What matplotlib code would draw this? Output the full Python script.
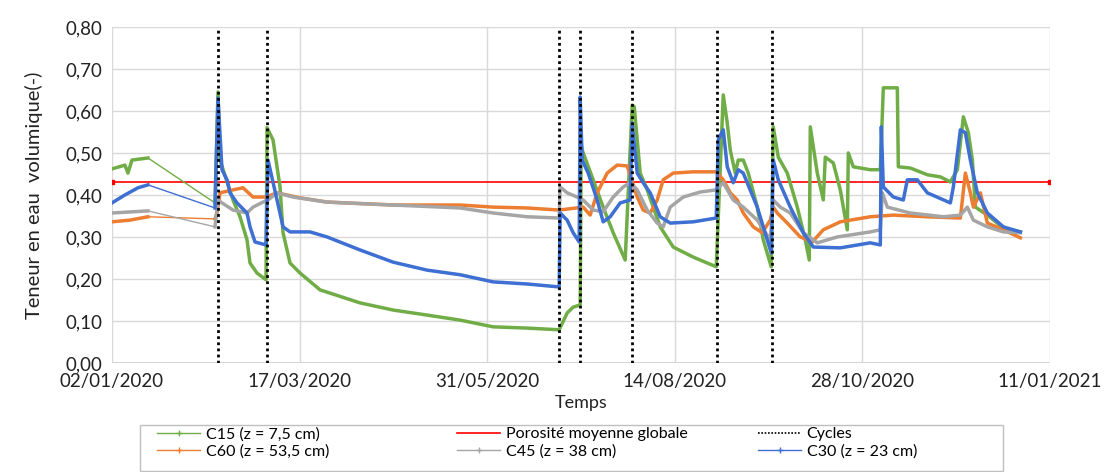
import datetime as dt
import numpy as np
import matplotlib
matplotlib.use("Agg")
import matplotlib.pyplot as plt
import matplotlib.dates as mdates
from matplotlib.lines import Line2D
from matplotlib.patches import Rectangle
from matplotlib.ticker import FuncFormatter, MultipleLocator

plt.rcParams['font.family'] = ['Lato', 'DejaVu Sans']

# days counted from 02/01/2020
START = dt.datetime(2020, 1, 2)

c15_days = [0, 5.2, 6.4, 8, 14.4, 41.2, 42.4, 43.2, 48.4, 51.2, 54, 55.2, 58, 61.6,
            62, 64.4, 67.2, 68.4, 71.2, 75.2, 83.2, 99.2, 112.4, 126, 139.2, 152.4, 166, 178.8,
            182, 184.4, 187.2, 187.6, 188, 192.4, 196.4, 200.4, 205.2,
            208, 208.8, 211.2, 214, 219.2, 224.4, 232.4, 241.6,
            244.4, 246, 247.2, 249.2, 250.4, 252.4, 254.4, 258, 260.4, 263.6,
            264.4, 266.4, 270, 274, 277.2, 278.8, 279.2, 282, 284.4, 285.2, 288.4, 291.2, 294,
            294.4, 296.4, 303.2, 307.2, 308.4, 314, 314.4, 319.2, 326, 331.2, 335.2,
            338, 340.4, 342.4, 344, 345.2, 350, 356.4, 363.2]
c15_vals = [0.462, 0.471, 0.452, 0.483, 0.488, 0.381, 0.645, 0.483, 0.388, 0.348, 0.293, 0.238, 0.214, 0.198,
            0.560, 0.531, 0.419, 0.310, 0.238, 0.214, 0.174, 0.143, 0.126, 0.114, 0.102, 0.086, 0.083, 0.079,
            0.119, 0.133, 0.138, 0.520, 0.507, 0.436, 0.371, 0.310, 0.245,
            0.614, 0.610, 0.452, 0.412, 0.324, 0.276, 0.252, 0.229,
            0.638, 0.571, 0.507, 0.452, 0.483, 0.483, 0.452, 0.371, 0.293, 0.229,
            0.562, 0.490, 0.452, 0.371, 0.293, 0.245, 0.562, 0.452, 0.388, 0.490, 0.476, 0.412, 0.317,
            0.500, 0.467, 0.460, 0.460, 0.655, 0.655, 0.467, 0.464, 0.448, 0.443, 0.431,
            0.460, 0.586, 0.548, 0.483, 0.371, 0.352, 0.321, 0.312]

c60_days = [0, 7.2, 14.4, 41.2, 42, 43.2, 48.4, 52.4, 56.4, 61.6, 66, 75.2, 86, 112.4, 139.2,
            152.4, 166, 178.8, 188.4, 191.2, 194, 198, 202, 206, 210, 212.4, 215.2, 218, 220.4,
            224.4, 232.4, 241.6, 244.4, 247.2, 250, 252.4, 256.4, 260, 263.2, 264.4, 266, 270,
            275.2, 280, 284.4, 291.2, 303.2, 312.4, 326, 339.2, 341.2, 343.2, 344.4, 347.2,
            350, 356.4, 363.2]
c60_vals = [0.336, 0.340, 0.348, 0.343, 0.357, 0.405, 0.412, 0.417, 0.395, 0.395, 0.405, 0.393, 0.383, 0.376, 0.376,
            0.371, 0.369, 0.364, 0.371, 0.352, 0.405, 0.452, 0.471, 0.469, 0.395, 0.364, 0.357, 0.388, 0.436,
            0.452, 0.455, 0.455, 0.436, 0.405, 0.388, 0.357, 0.324, 0.310, 0.340, 0.371, 0.357, 0.333,
            0.300, 0.288, 0.317, 0.336, 0.348, 0.352, 0.348, 0.345, 0.452, 0.405, 0.371, 0.405,
            0.333, 0.317, 0.298]

c45_days = [0, 14.4, 41.2, 42.4, 44, 48.4, 54, 56.4, 60.4, 62.4, 66, 72.4, 86, 112.4, 139.2,
            152.4, 166, 178.8, 179.2, 182, 186, 188.4, 192.4, 196.4, 200.4, 204.4, 207.2, 210,
            214, 218, 220.4, 223.2, 228.4, 235.2, 241.6, 244.4, 248.4, 252.4, 258, 263.2,
            264.4, 267.2, 271.2, 276.4, 282, 290, 303.2, 307.2, 308, 310, 319.2, 332.4, 339.2,
            342, 344.4, 350, 356.4, 363.2]
c45_vals = [0.357, 0.362, 0.324, 0.388, 0.381, 0.364, 0.357, 0.371, 0.383, 0.388, 0.405, 0.395, 0.383, 0.376, 0.369,
            0.357, 0.348, 0.345, 0.419, 0.405, 0.395, 0.388, 0.364, 0.360, 0.395, 0.419, 0.429, 0.412,
            0.364, 0.333, 0.324, 0.371, 0.395, 0.407, 0.412, 0.429, 0.388, 0.371, 0.340, 0.293,
            0.388, 0.371, 0.357, 0.310, 0.286, 0.300, 0.312, 0.317, 0.405, 0.371, 0.357, 0.348, 0.352,
            0.371, 0.340, 0.324, 0.312, 0.310]

c30_days = [0, 5.2, 10.4, 14.4, 41.2, 42.4, 44, 46, 47.2, 50, 54, 55.2, 57.2, 61.6,
            62.4, 66, 68.4, 71.2, 79.2, 86, 99.2, 112.4, 126, 139.2, 152.4, 166, 178.8,
            179.2, 182, 184.4, 186.8, 187.2, 188, 190.4, 194, 196.4, 199.2, 203.2, 207.2,
            208, 210, 212.4, 215.2, 219.2, 223.2, 232.4, 241.6, 242.4, 244.4, 246, 248.4,
            250.4, 252.4, 258, 262, 263.6, 264.4, 266.4, 271.2, 276.4, 280.4, 291.2, 303.2,
            307.2, 307.6, 308.4, 312.4, 316.4, 318, 322, 326, 335.2, 336.4, 339.2, 341.2,
            343.2, 346, 350, 356.4, 363.2]
c30_vals = [0.381, 0.400, 0.417, 0.424, 0.369, 0.631, 0.460, 0.436, 0.405, 0.381, 0.357, 0.324, 0.288, 0.281,
            0.483, 0.388, 0.324, 0.312, 0.312, 0.300, 0.269, 0.240, 0.221, 0.210, 0.193, 0.188, 0.181,
            0.357, 0.340, 0.310, 0.288, 0.633, 0.483, 0.452, 0.388, 0.336, 0.348, 0.381, 0.388,
            0.571, 0.452, 0.429, 0.405, 0.348, 0.333, 0.336, 0.345, 0.531, 0.555, 0.467, 0.429,
            0.460, 0.452, 0.371, 0.293, 0.262, 0.483, 0.436, 0.371, 0.310, 0.276, 0.274, 0.286,
            0.281, 0.562, 0.419, 0.395, 0.388, 0.436, 0.436, 0.405, 0.381, 0.419, 0.555, 0.548,
            0.483, 0.405, 0.357, 0.324, 0.312]

porosite = 0.43
cycle_days = [42.4, 62, 178.8, 187.2, 208, 242, 264]
# no measurements between these days: only a thin joining segment
gap = (14.4, 41.2)

GREEN, ORANGE, GREY, BLUE = "#70AD47", "#ED7D31", "#A5A5A5", "#3E6FD2"
series = [
    (c15_days, c15_vals, GREEN),
    (c60_days, c60_vals, ORANGE),
    (c45_days, c45_vals, GREY),
    (c30_days, c30_vals, BLUE),
]


def to_dates(days):
    return mdates.date2num(START) + np.asarray(days, dtype=float)


fig = plt.figure(figsize=(11.04, 4.72), dpi=100)
ax = fig.add_axes([0.1014, 0.231, 0.8496, 0.712])

for d, v, col in series:
    x = to_dates(d)
    y = np.asarray(v, dtype=float)
    d_arr = np.asarray(d, dtype=float)
    ax.plot(x, y, color=col, lw=1.0, zorder=3)
    # thick trace only where logged continuously
    xs, ys = [], []
    for k in range(len(x)):
        xs.append(x[k]); ys.append(y[k])
        if k + 1 < len(x) and d_arr[k] <= gap[0] and d_arr[k + 1] >= gap[1]:
            xs.append(np.nan); ys.append(np.nan)
    ax.plot(xs, ys, color=col, lw=2.5, zorder=3, solid_joinstyle='round')

x0, x1 = to_dates([0, 375])
ax.plot([x0, x1], [porosite, porosite], color="#FF0000", lw=1.2, zorder=2,
        marker='s', markersize=2.2, markevery=[0, 1])

for c in to_dates(cycle_days):
    ax.plot([c, c], [0, 0.8], color="black", lw=2.0, ls=(0, (1, 1.2)), zorder=4)

ax.set_xlim(x0, x1)
ax.set_ylim(0, 0.8)
ax.xaxis.set_major_locator(plt.FixedLocator(to_dates([0, 75, 150, 225, 300, 375])))
ax.xaxis.set_major_formatter(mdates.DateFormatter('%d/%m/%Y'))
ax.yaxis.set_major_locator(MultipleLocator(0.1))
ax.yaxis.set_major_formatter(FuncFormatter(lambda v, p: f"{v:.2f}".replace('.', ',')))
ax.grid(True, color="#D9D9D9", lw=1.0, zorder=0)
ax.set_axisbelow(True)
for s in ax.spines.values():
    s.set_visible(False)
ax.axhline(0, color="#D0D0D0", lw=1.2, zorder=1)
ax.tick_params(length=0, labelsize=13.5, colors="#222222", pad=7)
ax.set_xlabel("Temps", fontsize=13, color="#222222", labelpad=4)
ax.set_ylabel("Teneur en eau  volumique(-)", fontsize=14.5, color="#222222", labelpad=16)

# legend: one frame, three columns placed by hand
W, H = 1104, 472
fig.patches.append(Rectangle((140 / W, 1 - 471 / H), (1003 - 140) / W, (471 - 425) / H,
                             transform=fig.transFigure, fill=False,
                             edgecolor="#BFBFBF", lw=1.0, zorder=5))
columns = [
    ([Line2D([], [], color=GREEN, lw=1, marker='+', ms=4),
      Line2D([], [], color=ORANGE, lw=1, marker='+', ms=4)],
     ["C15 (z = 7,5 cm)", "C60 (z = 53,5 cm)"], 157),
    ([Line2D([], [], color="#FF0000", lw=1.2),
      Line2D([], [], color=GREY, lw=1, marker='+', ms=4)],
     ["Porosité moyenne globale", "C45 (z = 38 cm)"], 457),
    ([Line2D([], [], color="black", lw=1.2, ls=(0, (1, 1))),
      Line2D([], [], color=BLUE, lw=1, marker='+', ms=4)],
     ["Cycles", "C30 (z = 23 cm)"], 758),
]
for hs, ls, xpx in columns:
    fig.legend(hs, ls, loc='upper left', bbox_to_anchor=(xpx / W, 1 - 427 / H),
               fontsize=11.5, frameon=False, handlelength=2.7, handletextpad=0.35,
               borderpad=0, labelspacing=0.18, borderaxespad=0)

fig.savefig("out.png", dpi=100)
